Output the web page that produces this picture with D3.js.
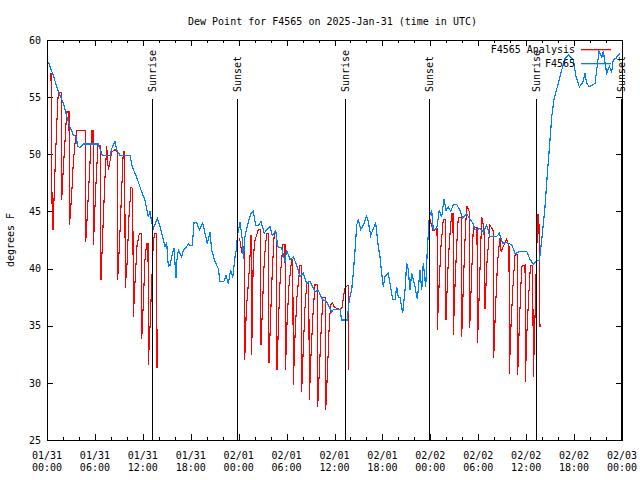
<!DOCTYPE html>
<html><head><meta charset="utf-8">
<script src="https://cdn.jsdelivr.net/npm/d3@7"></script>
<style>
body{margin:0;background:#fff}
svg text{font-family:"DejaVu Sans Mono",monospace;font-size:10px;fill:#000}
</style>
</head><body>
<svg id="chart" width="640" height="480"></svg>
<script>
const chartTitle = "Dew Point for F4565 on 2025-Jan-31 (time in UTC)";
const yAxisLabel = "degrees F";
const xTickHours = [0,6,12,18,24,30,36,42,48,54,60,66,72];
const xTickDates = ["01/31","01/31","01/31","01/31","02/01","02/01","02/01","02/01","02/02","02/02","02/02","02/02","02/03"];
const xTickTimes = ["00:00","06:00","12:00","18:00","00:00","06:00","12:00","18:00","00:00","06:00","12:00","18:00","00:00"];
const yTicks = [25,30,35,40,45,50,55,60];
const sunEventHours = [13.15,23.8,37.3,47.85,61.25,71.9];
const sunEventLabels = ["Sunrise","Sunset","Sunrise","Sunset","Sunrise","Sunset"];
const seriesNames = ["F4565 Analysis","F4565"];
const seriesColors = ["#ff0000","#0080ff"];

// Observations (hours since 01/31 00:00 UTC, degrees F)
const obsHours = [0.16,0.79,1.41,2.04,2.47,2.88,3.29,3.72,3.79,4.13,
4.55,6.42,6.92,7.89,8.10,8.51,8.73,9.14,10.39,10.68,
11.23,11.86,12.27,12.68,12.90,13.11,13.31,13.81,14.15,14.56,
14.78,14.99,15.19,15.40,15.61,15.90,16.15,16.24,16.44,16.87,
17.07,17.49,17.69,17.91,18.19,18.41,18.74,19.07,19.50,19.78,
20.07,20.41,20.62,21.04,21.45,21.66,22.16,22.41,22.70,23.00,
23.25,23.54,23.75,23.83,24.17,24.51,24.58,24.79,25.21,25.54,
25.83,26.13,26.46,26.80,26.96,27.21,27.51,27.92,28.21,28.64,
28.89,29.39,29.80,30.01,30.43,30.84,31.27,31.68,32.09,32.52,
32.93,33.56,33.97,34.47,35.02,35.65,35.85,36.69,36.90,37.60,
37.85,38.15,38.35,38.57,38.78,38.98,39.28,39.61,40.03,40.23,
40.53,40.86,41.16,41.49,41.70,41.91,42.11,42.32,42.74,42.95,
43.29,43.58,43.79,43.99,44.20,44.54,44.83,45.04,45.24,45.45,
45.67,46.08,46.37,46.71,46.92,47.12,47.42,47.62,47.87,48.17,
48.37,48.80,49.12,49.42,49.71,49.96,50.25,50.55,50.88,51.30,
51.72,52.05,52.55,52.97,53.31,53.59,54.22,54.63,55.06,55.47,
56.31,56.64,57.06,57.35,58.19,58.61,59.23,60.07,60.48,60.90,
61.32,61.65,61.95,62.36,62.65,62.99,63.20,63.49,63.90,64.24,
64.58,64.86,65.28,65.58,65.90,66.24,66.65,67.08,67.37,67.58,
67.91,68.62,68.91,69.12,69.46,69.66,69.87,70.08,70.41,70.71,
70.91,71.25,71.54,71.75];
const obsValues = [58.1,56.9,55.5,54.5,53.3,52.4,51.7,51.5,50.7,50.6,
50.9,50.9,49.9,49.9,50.5,51.1,50.4,49.9,49.9,48.9,
48.0,46.7,46.0,44.5,45.0,44.0,43.5,44.4,43.7,42.5,
41.9,42.2,40.2,40.3,41.0,41.8,39.2,40.6,41.6,41.0,
41.6,41.9,42.2,42.0,42.0,44.0,44.0,43.4,44.0,43.1,
42.2,43.2,41.6,40.6,40.0,38.9,38.9,39.4,38.7,39.9,
39.2,41.0,41.8,42.8,44.1,42.2,40.8,42.8,44.1,44.8,
45.0,43.8,43.8,44.1,43.7,43.1,43.4,43.7,42.9,43.3,
41.9,41.8,40.6,41.6,40.8,41.0,40.3,39.3,39.6,38.7,
38.9,38.0,38.1,37.3,37.1,36.2,36.4,36.4,35.5,35.5,
37.3,38.1,39.6,41.6,43.8,44.3,43.4,43.8,44.6,44.1,
42.9,43.5,44.0,41.9,41.0,39.6,38.4,39.3,39.6,38.7,
37.3,37.3,38.4,37.5,37.5,36.1,38.1,40.5,39.9,38.1,
39.6,38.4,37.3,39.9,38.1,40.5,38.4,41.6,44.5,45.1,
43.4,43.5,45.1,44.5,46.1,45.1,45.4,45.0,45.6,45.6,
45.1,44.4,44.8,44.3,44.0,43.4,43.5,43.2,43.8,42.8,
42.8,43.1,42.2,42.3,42.1,41.3,41.5,41.5,40.8,40.4,
40.7,40.7,42.5,45.4,48.3,51.3,53.3,54.8,55.9,56.8,
57.7,58.4,58.7,58.5,58.3,56.8,55.9,56.3,57.1,56.2,
55.9,56.2,57.8,59.0,58.5,59.0,58.0,57.1,57.7,57.2,
58.3,58.4,58.7,58.8];

// Analysis (null = gap between night segments)
const anaHours = [0.50,0.66,0.75,1.00,1.21,1.41,1.79,1.84,2.04,2.25,2.47,2.75,2.82,3.09,3.29,3.51,3.72,4.80,4.85,5.07,5.32,5.60,5.76,5.82,6.07,6.26,6.39,6.70,6.76,7.01,7.26,7.48,7.68,8.10,8.51,8.80,8.85,9.08,9.33,9.55,9.73,9.80,10.02,10.27,10.52,10.74,10.81,11.02,11.27,11.56,11.81,11.86,12.06,12.27,12.48,12.65,12.68,12.90,13.09,13.31,13.46,13.74,13.78,
null,
24.10,24.38,24.67,24.76,24.96,25.17,25.36,25.54,25.63,25.83,26.05,26.46,26.71,26.80,27.00,27.21,27.51,27.71,27.80,28.01,28.21,28.46,28.71,28.80,29.01,29.21,29.55,29.80,29.86,30.07,30.30,30.64,30.78,30.84,31.05,31.30,31.68,31.84,31.89,32.09,32.30,32.52,32.78,32.85,33.06,33.31,33.56,33.84,33.90,34.13,34.35,34.56,34.84,34.90,35.12,35.31,35.50,35.73,36.00,36.69,36.94,37.28,37.57,37.73,37.81,
null,
47.96,48.33,48.84,48.87,49.09,49.34,49.62,49.90,49.96,50.17,50.40,50.67,50.84,50.88,51.09,51.30,51.50,51.88,51.93,52.13,52.34,52.55,52.88,52.93,53.15,53.38,53.84,53.91,54.13,54.43,54.72,54.84,55.09,55.47,55.88,55.94,56.16,56.35,56.52,56.73,56.86,57.56,57.85,57.89,58.10,58.35,58.61,58.90,58.94,59.14,59.44,59.86,59.89,60.10,60.35,60.54,60.82,60.90,61.08,61.29,61.48,61.60,61.73];
const anaValues = [57.1,43.4,43.4,48.5,52.4,55.4,55.4,46.0,48.7,51.1,53.7,53.7,43.8,46.5,49.2,51.0,52.1,52.1,42.3,45.0,48.4,52.1,52.1,42.1,46.5,49.2,50.8,50.8,39.0,43.6,48.0,50.7,48.6,50.2,50.4,50.2,39.0,42.2,46.5,50.2,50.2,38.3,40.4,44.6,47.1,47.0,35.8,38.8,42.0,43.1,43.1,33.8,37.0,40.8,42.2,42.2,31.6,34.9,38.4,42.2,43.1,43.1,31.3,
null,
42.7,41.5,42.0,32.0,36.5,38.3,40.2,42.9,32.4,41.0,42.5,43.4,43.4,33.3,37.0,40.8,43.1,43.1,31.7,36.0,39.8,43.1,43.1,31.1,35.8,39.3,42.1,42.1,31.1,35.5,38.5,40.8,40.8,29.8,34.0,37.5,40.3,40.3,29.2,33.0,36.5,38.7,38.7,28.5,32.5,36.0,38.6,38.6,27.9,31.5,35.0,37.5,37.5,27.6,31.0,34.5,36.8,37.0,36.6,36.4,36.6,38.2,38.5,38.5,31.1,
null,
44.3,43.3,43.5,34.6,38.5,42.0,44.3,44.3,35.5,39.5,42.5,44.8,44.8,34.2,38.5,42.0,44.5,44.5,34.0,38.5,42.5,45.5,45.0,34.8,39.0,43.6,43.6,33.5,38.0,44.5,43.5,36.5,40.5,43.8,43.3,32.2,36.5,39.5,41.5,42.7,41.5,42.6,42.0,30.8,35.0,38.5,41.2,41.2,30.7,35.0,40.2,40.3,30.1,34.5,38.0,40.3,40.3,30.5,35.0,41.0,44.8,44.1,34.9];

const L = 47, R = 622, T = 40, B = 440;
const svg = d3.select("#chart");
const x = d3.scaleLinear().domain([0,72]).range([L,R]);
const y = d3.scaleLinear().domain([25,60]).range([B,T]);

// title
svg.append("text").attr("x",(L+R)/2 - 2).attr("y",25).attr("text-anchor","middle").text(chartTitle);
// y axis label
svg.append("text").attr("transform","translate(14,240) rotate(-90)").attr("text-anchor","middle").text(yAxisLabel);

const minorHours = d3.range(0,73,2).filter(h => h % 6 !== 0);

function addAxis(gen, tx, ty, vals, size, labels) {
  const g = svg.append("g").attr("transform",`translate(${tx},${ty})`)
    .call(gen.tickValues(vals).tickSize(size).tickPadding(6).tickFormat(labels ? null : ""));
  g.select(".domain").remove();
  g.selectAll("line").attr("stroke","#000").attr("shape-rendering","crispEdges");
  g.selectAll("text").attr("font-family",null).attr("font-size",null);
  return g;
}
addAxis(d3.axisBottom(x), 0, B, xTickHours, -6, false);
addAxis(d3.axisBottom(x), 0, B, minorHours, -3, false);
addAxis(d3.axisTop(x), 0, T, xTickHours, -6, false);
addAxis(d3.axisTop(x), 0, T, minorHours, -3, false);
addAxis(d3.axisLeft(y), L, 0, yTicks, -6, true);
addAxis(d3.axisRight(y), R, 0, yTicks, -6, false);

// x tick labels (two lines)
const xl = svg.append("g");
xl.selectAll("text.d").data(xTickHours).join("text").attr("class","d")
  .attr("x", d => x(d)).attr("y", 459).attr("text-anchor","middle").text((d,i) => xTickDates[i]);
xl.selectAll("text.t").data(xTickHours).join("text").attr("class","t")
  .attr("x", d => x(d)).attr("y", 471).attr("text-anchor","middle").text((d,i) => xTickTimes[i]);

// series
const anaData = anaHours.map((h,i) => [h, anaValues[i]]);
const obsData = obsHours.map((h,i) => [h, obsValues[i]]);
const line = d3.line().defined(d => d[0] !== null && d[1] !== null).x(d => x(d[0])).y(d => y(d[1]));
svg.append("path").datum(anaData).attr("d", line).attr("fill","none")
  .attr("stroke", seriesColors[0]).attr("stroke-width",1.1).attr("shape-rendering","crispEdges");
svg.append("path").datum(obsData).attr("d", line).attr("fill","none")
  .attr("stroke", seriesColors[1]).attr("stroke-width",1.2).attr("shape-rendering","crispEdges");

// sunrise / sunset markers
const ev = svg.append("g");
ev.selectAll("line").data(sunEventHours).join("line")
  .attr("x1", d => Math.round(x(d)) + 0.5).attr("x2", d => Math.round(x(d)) + 0.5)
  .attr("y1", 99).attr("y2", B).attr("stroke","#000").attr("stroke-width",1).attr("shape-rendering","crispEdges");
ev.selectAll("text").data(sunEventHours).join("text")
  .attr("transform", d => `translate(${Math.round(x(d)) + 4},92) rotate(-90)`)
  .attr("text-anchor","start").text((d,i) => sunEventLabels[i]);

// legend
const lg = svg.append("g");
seriesNames.forEach((name, i) => {
  const yy = 49 + i * 14;
  lg.append("text").attr("x", 575).attr("y", yy + 4).attr("text-anchor","end").text(name);
  lg.append("rect").attr("x", 581).attr("y", yy).attr("width", 30).attr("height", 1.3)
    .attr("fill", seriesColors[i]).attr("stroke","none");
});

// border
svg.append("rect").attr("x", L + 0.5).attr("y", T + 0.5).attr("width", R - L).attr("height", B - T)
  .attr("fill","none").attr("stroke","#000").attr("stroke-width",1).attr("shape-rendering","crispEdges");
</script>
</body></html>
